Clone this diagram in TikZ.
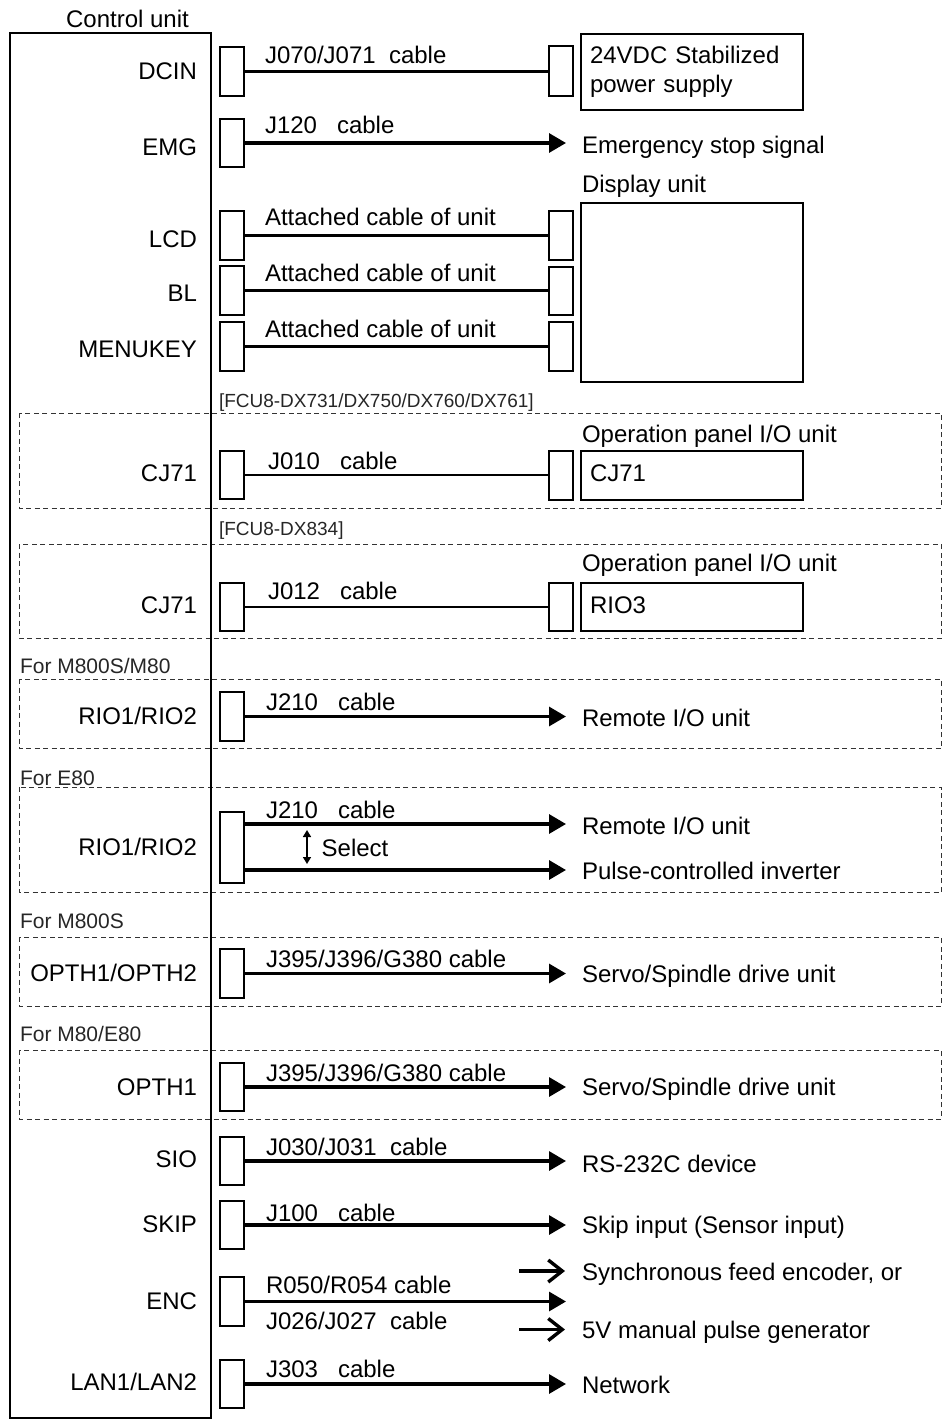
\documentclass[tikz,border=0pt]{standalone}
\usepackage{fontspec}
\setmainfont{Liberation Sans}
\usetikzlibrary{arrows.meta}
\begin{document}
\begin{tikzpicture}[x=1pt,y=-1pt,
  every node/.style={inner sep=0pt, outer sep=0pt},
  txt/.style={font=\fontsize{24}{29}\selectfont, text height=17.2pt, text depth=0pt},
  grptxt/.style={font=\fontsize{21}{25}\selectfont, text height=15pt, text depth=0pt, text=black!85, anchor=west},
  fcutxt/.style={font=\fontsize{19}{23}\selectfont, text height=13.6pt, text depth=0pt, text=black!85, anchor=west},
  lbl/.style={txt, anchor=east},
  cbl/.style={txt, anchor=west},
  rtxt/.style={txt, anchor=west},
  conn/.style={draw, line width=2pt, minimum width=24.5pt, minimum height=48.5pt},
  unitbox/.style={draw, line width=2pt, minimum width=222pt, anchor=west},
  wire/.style={line width=2.2pt},
  arr/.style={line width=3.2pt, -{Triangle[length=17pt,width=19pt]}, shorten >=16pt},
  oarr/.style={line width=3.4pt, -{Straight Barb[length=14pt,width=22pt]}, shorten >=17pt},
  selarr/.style={line width=1.6pt, {Triangle[length=7pt,width=8pt]}-{Triangle[length=7pt,width=8pt]}},
  grp/.style={line width=1pt, draw=black!80, dash pattern=on 5pt off 3.5pt}
]
\useasboundingbox (0,0) rectangle (945,1420);

% group frames
\draw[grp] (19,413) rectangle (941,508);
\draw[grp] (19,544) rectangle (941,638);
\draw[grp] (19,679) rectangle (941,748.5);
\draw[grp] (19,787) rectangle (941,892.5);
\draw[grp] (19,937) rectangle (941,1006);
\draw[grp] (19,1050) rectangle (941,1119);

% control unit
\node[txt] (cut) at (127.5,18.5) {Control unit};
\node[draw, line width=2pt, minimum width=201.5pt, minimum height=1385pt, anchor=north west] (cu) at (9.5,33) {};

% left labels
\node[lbl] at (197,71) {DCIN};
\node[lbl] at (197,146.5) {EMG};
\node[lbl] at (197,238.5) {LCD};
\node[lbl] at (197,292.5) {BL};
\node[lbl] at (197,348.5) {MENUKEY};
\node[lbl] at (197,473.3) {CJ71};
\node[lbl] at (197,605) {CJ71};
\node[lbl] at (197,716) {RIO1/RIO2};
\node[lbl] at (197,847) {RIO1/RIO2};
\node[lbl] at (197,973) {OPTH1/OPTH2};
\node[lbl] at (197,1086.5) {OPTH1};
\node[lbl] at (197,1159) {SIO};
\node[lbl] at (197,1224) {SKIP};
\node[lbl] at (197,1301) {ENC};
\node[lbl] at (197,1382) {LAN1/LAN2};

% left connectors
\node[conn] (cDC) at (232,71.5) {};
\node[conn] (cEMG) at (232,143) {};
\node[conn] (cLCD) at (232,235.5) {};
\node[conn] (cBL) at (232,290.5) {};
\node[conn] (cMK) at (232,346.5) {};
\node[conn] (cCJa) at (232,475) {};
\node[conn] (cCJb) at (232,607) {};
\node[conn] (cRIOa) at (232,716.5) {};
\node[conn, minimum height=71pt] (cRIOb) at (232,847.5) {};
\node[conn] (cOPa) at (232,973.5) {};
\node[conn] (cOPb) at (232,1087) {};
\node[conn] (cSIO) at (232,1161) {};
\node[conn] (cSKIP) at (232,1225) {};
\node[conn] (cENC) at (232,1301.5) {};
\node[conn] (cLAN) at (232,1384) {};

% right connectors
\node[conn, minimum height=50pt] (rDC) at (561,71.5) {};
\node[conn] (rLCD) at (561,235.5) {};
\node[conn] (rBL) at (561,291) {};
\node[conn] (rMK) at (561,346.5) {};
\node[conn, minimum height=49.5pt] (rCJa) at (561,475.5) {};
\node[conn] (rCJb) at (561,607) {};

% units
\node[unitbox, minimum height=76pt, text width=204pt, inner xsep=9pt, align=left,
      font=\fontsize{24}{29.2}\selectfont] (ps) at (581,72) {24VDC Stabilized\\power supply};
\node[draw, line width=2pt, minimum width=222pt, minimum height=179pt, anchor=north west] (disp) at (581,203) {};
\node[rtxt] (dispt) at (582,183.7) {Display unit};
\node[rtxt] (opta) at (582,434) {Operation panel I/O unit};
\node[unitbox, minimum height=49pt] (opa) at (581,475.5) {};
\node[rtxt] at (590,473) {CJ71};
\node[rtxt] (optb) at (582,563) {Operation panel I/O unit};
\node[unitbox, minimum height=48pt] (opb) at (581,606.7) {};
\node[rtxt] at (590,604.7) {RIO3};

% right texts
\node[rtxt] (tEMG) at (582,145) {Emergency stop signal};
\node[rtxt] (tRIOa) at (582,718) {Remote I/O unit};
\node[rtxt] (tRIOb) at (582,826) {Remote I/O unit};
\node[rtxt] (tPulse) at (582,871) {Pulse-controlled inverter};
\node[rtxt] (tSVa) at (582,974) {Servo/Spindle drive unit};
\node[rtxt] (tSVb) at (582,1087) {Servo/Spindle drive unit};
\node[rtxt] (tRS) at (582,1163.7) {RS-232C device};
\node[rtxt] (tSkip) at (582,1225) {Skip input (Sensor input)};
\node[rtxt] (tSync) at (582,1271.5) {Synchronous feed encoder, or};
\node[rtxt] (t5V) at (582,1329.5) {5V manual pulse generator};
\node[rtxt] (tNet) at (582,1385) {Network};

% group captions
\node[fcutxt] at (219,401) {[FCU8-DX731/DX750/DX760/DX761]};
\node[fcutxt] at (219,529) {[FCU8-DX834]};
\node[grptxt] at (20,665.5) {For M800S/M80};
\node[grptxt] at (20,778) {For E80};
\node[grptxt] at (20,920.5) {For M800S};
\node[grptxt] at (20,1034) {For M80/E80};

% cable labels
\node[cbl] at (265,55) {J070/J071\ \ cable};
\node[cbl] at (265,125) {J120\ \ \ cable};
\node[cbl] at (265,216.5) {Attached cable of unit};
\node[cbl] at (265,272.5) {Attached cable of unit};
\node[cbl] at (265,328.5) {Attached cable of unit};
\node[cbl] at (268,460.5) {J010\ \ \ cable};
\node[cbl] at (268,591) {J012\ \ \ cable};
\node[cbl] at (266,702) {J210\ \ \ cable};
\node[cbl] at (266,809.5) {J210\ \ \ cable};
\node[cbl] at (266,959) {J395/J396/G380 cable};
\node[cbl] at (266,1072.5) {J395/J396/G380 cable};
\node[cbl] at (266,1147) {J030/J031\ \ cable};
\node[cbl] at (266,1213) {J100\ \ \ cable};
\node[cbl] at (266,1284.5) {R050/R054 cable};
\node[cbl] at (266,1321) {J026/J027\ \ cable};
\node[cbl] at (266,1369) {J303\ \ \ cable};
\node[txt, anchor=west] (sel) at (321.7,848) {Select};

% plain wires
\draw[wire] (cDC.east) -- (cDC.east -| rDC.west);
\draw[wire] (cLCD.east) -- (cLCD.east -| rLCD.west);
\draw[wire] (cBL.east) -- (cBL.east -| rBL.west);
\draw[wire] (cMK.east) -- (cMK.east -| rMK.west);
\draw[wire] (cCJa.east) -- (cCJa.east -| rCJa.west);
\draw[wire] (cCJb.east) -- (cCJb.east -| rCJb.west);

% arrow wires
\draw[arr] (cEMG.east) -- (cEMG.east -| tEMG.west);
\draw[arr] (cRIOa.east) -- (cRIOa.east -| tRIOa.west);
\coordinate (e80a) at ([yshift=23.5pt]cRIOb.east);
\coordinate (e80b) at ([yshift=-22.5pt]cRIOb.east);
\draw[arr] (e80a) -- (e80a -| tRIOb.west);
\draw[arr] (e80b) -- (e80b -| tPulse.west);
\draw[arr] (cOPa.east) -- (cOPa.east -| tSVa.west);
\draw[arr] (cOPb.east) -- (cOPb.east -| tSVb.west);
\draw[arr] (cSIO.east) -- (cSIO.east -| tRS.west);
\draw[arr] (cSKIP.east) -- (cSKIP.east -| tSkip.west);
\coordinate (encEnd) at (582,1301.5);
\draw[arr] (cENC.east) -- (encEnd);
\draw[arr] (cLAN.east) -- (cLAN.east -| tNet.west);

% open arrows for ENC
\coordinate (syncS) at (519,1271);
\coordinate (mpgS) at (519,1329.5);
\draw[oarr] (syncS) -- (syncS -| tSync.west);
\draw[oarr] (mpgS) -- (mpgS -| t5V.west);

% select arrow
\coordinate (selT) at (307,830);
\coordinate (selB) at (307,864);
\draw[selarr] (selT) -- (selB);
\end{tikzpicture}
\end{document}
